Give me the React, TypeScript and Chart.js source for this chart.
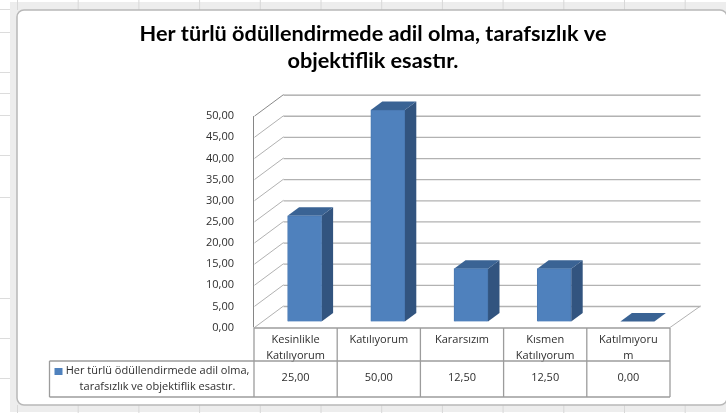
import React, { useEffect, useRef } from "react";
import { Chart, registerables } from "chart.js";

Chart.register(...registerables);

const titleLines = ["Her türlü ödüllendirmede adil olma, tarafsızlık ve", "objektiflik esastır."];
const categories = [["Kesinlikle", "Katılıyorum"], ["Katılıyorum"], ["Kararsızım"], ["Kısmen", "Katılıyorum"], ["Katılmıyoru", "m"]];
const values = [25, 50, 12.5, 12.5, 0];
const legendLines = ["Her türlü ödüllendirmede adil olma,", "tarafsızlık ve objektiflik esastır."];
const yMax = 50;
const yStep = 5;

const SMALL_FONT = "'Open Sans'";
const fmt = (v: number) => v.toFixed(2).replace(".", ",");

const WALL_DX = 29.5;
const WALL_DY = -21.5;
const BAR_DX = 9;
const BAR_DY = -6;
const SIDE_DX = 11.5;
const SIDE_DY = -8.5;

function poly(ctx: CanvasRenderingContext2D, pts: number[][], fill: string) {
  ctx.beginPath();
  pts.forEach((p, i) => (i ? ctx.lineTo(p[0], p[1]) : ctx.moveTo(p[0], p[1])));
  ctx.closePath();
  ctx.fillStyle = fill;
  ctx.fill();
}
function line(ctx: CanvasRenderingContext2D, x1: number, y1: number, x2: number, y2: number, color: string, w = 1) {
  ctx.beginPath();
  ctx.moveTo(x1, y1);
  ctx.lineTo(x2, y2);
  ctx.strokeStyle = color;
  ctx.lineWidth = w;
  ctx.stroke();
}

const stage3d = {
  id: "stage3d",
  beforeDraw(chart: any) {
    const { ctx, width, height } = chart;
    ctx.save();
    ctx.fillStyle = "#ffffff";
    ctx.fillRect(0, 0, width, height);
    // worksheet cells around the chart frame
    for (const y of [9, 32, 72, 93, 115, 155, 197, 298, 338, 378]) line(ctx, 0, y + 0.5, 10, y + 0.5, "#dcdcdc");
    // chart frame band
    ctx.fillStyle = "#ededed";
    ctx.fillRect(10, 2, width - 10, height - 3);
    for (let x = 17.5; x < width; x += 60.7) {
      line(ctx, x, 0, x, 10, "#d8d8d8");
      line(ctx, x, 405, x, height, "#d8d8d8");
    }
    ctx.beginPath();
    ctx.roundRect(17, 10, 710, 395, 7);
    ctx.fillStyle = "#ffffff";
    ctx.fill();
    ctx.strokeStyle = "#b8b8b8";
    ctx.lineWidth = 1.5;
    ctx.stroke();

    // walls and gridlines from the value scale
    const xs = chart.scales.x;
    const ys = chart.scales.y;
    const left = xs.left;
    const right = xs.right;
    for (const t of ys.ticks) {
      const y = ys.getPixelForValue(t.value);
      const top = t.value === yMax;
      const c = top ? "#8a8a8a" : "#b2b2b2";
      line(ctx, left + 0.5, y, left + WALL_DX, y + WALL_DY, c, 1);
      line(ctx, left + WALL_DX, y + WALL_DY + 0.5, right + WALL_DX + 1, y + WALL_DY + 0.5, c, top ? 1 : 1.3);
    }
    const y0 = ys.getPixelForValue(0);
    line(ctx, right, y0, right + WALL_DX + 1, y0 + WALL_DY, "#b2b2b2", 1);
    line(ctx, left - 0.5, ys.getPixelForValue(yMax), left - 0.5, y0, "#868686", 1);
    ctx.restore();
  },
  beforeDatasetsDraw(chart: any) {
    const { ctx } = chart;
    ctx.save();
    ctx.translate(BAR_DX, BAR_DY);
    const meta = chart.getDatasetMeta(0);
    meta.data.forEach((bar: any) => {
      const l = bar.x - bar.width / 2;
      const r = bar.x + bar.width / 2;
      const t = bar.y;
      const b = bar.base;
      if (b - t > 0.5) {
        poly(ctx, [[r, t], [r + SIDE_DX, t + SIDE_DY], [r + SIDE_DX, b + SIDE_DY], [r, b]], "#32547f");
      }
      poly(ctx, [[l, t], [l + SIDE_DX, t + SIDE_DY], [r + SIDE_DX, t + SIDE_DY], [r, t]], "#3a6394");
    });
  },
  afterDatasetsDraw(chart: any) {
    const { ctx } = chart;
    ctx.restore();
    ctx.save();
    // data table
    const xs = chart.scales.x;
    const ys = chart.scales.y;
    const top = ys.getPixelForValue(0) + 0.5;
    const rowMid = 361;
    const bottom = 397;
    const tableLeft = 49.5;
    const c = "#9c9c9c";
    const n = values.length;
    const step = (xs.right - xs.left) / n;
    line(ctx, xs.left, top, xs.right, top, c, 1.3);
    line(ctx, tableLeft, rowMid, xs.right, rowMid, c, 1.3);
    line(ctx, tableLeft, bottom, xs.right, bottom, c, 1.3);
    line(ctx, tableLeft, rowMid, tableLeft, bottom, c, 1.3);
    for (let i = 0; i <= n; i++) {
      const x = xs.left + i * step;
      line(ctx, x, top, x, bottom, c, 1.3);
    }
    ctx.fillStyle = "#2e2e2e";
    ctx.font = `11px ${SMALL_FONT}`;
    ctx.textAlign = "center";
    ctx.textBaseline = "middle";
    values.forEach((v, i) => ctx.fillText(fmt(v), xs.getPixelForTick(i), 378));
    ctx.font = `11px ${SMALL_FONT}`;
    ctx.fillText(legendLines[0], 157.5, 371);
    ctx.fillText(legendLines[1], 157.5, 387);
    ctx.fillStyle = "#4f81bd";
    ctx.fillRect(54.5, 368, 8, 7);
    ctx.restore();
  },
};

export default function App() {
  const ref = useRef<HTMLCanvasElement>(null);
  useEffect(() => {
    document.body.style.margin = "0";
    const chart = new Chart(ref.current!, {
      type: "bar",
      data: {
        labels: categories as any,
        datasets: [
          {
            label: legendLines.join(" "),
            data: values,
            backgroundColor: "#4f81bd",
            borderColor: "#4a79b2",
            borderWidth: 1,
            barThickness: 34,
            clip: false as any,
          },
        ],
      },
      options: {
        animation: false,
        responsive: false,
        layout: { padding: { left: 76, right: 56, top: 20, bottom: 0 } },
        plugins: {
          legend: { display: false },
          tooltip: { enabled: false },
          title: {
            display: true,
            text: titleLines,
            color: "#000000",
            font: { family: "Lato", size: 21.7, weight: "bold", lineHeight: 1.27 },
            padding: { top: 0, bottom: 41 },
          },
        },
        scales: {
          x: {
            grid: { display: false },
            border: { display: false },
            ticks: {
              autoSkip: false,
              maxRotation: 0,
              minRotation: 0,
              padding: -3,
              color: "#2e2e2e",
              font: { family: "Open Sans", size: 11, lineHeight: 1.42 },
            },
            afterFit: (s: any) => {
              s.height = 85.5;
            },
          },
          y: {
            min: 0,
            max: yMax,
            grid: { display: false },
            border: { display: false },
            ticks: {
              stepSize: yStep,
              padding: 12,
              color: "#2e2e2e",
              font: { family: "Open Sans", size: 11 },
              callback: (v: any) => fmt(Number(v)),
            },
            afterFit: (s: any) => {
              s.width = 178;
            },
          },
        },
      },
      plugins: [stage3d as any],
    });
    return () => chart.destroy();
  }, []);
  return <canvas ref={ref} width={726} height={413} style={{ position: "fixed", left: 0, top: 0, width: 726, height: 413 }} />;
}
